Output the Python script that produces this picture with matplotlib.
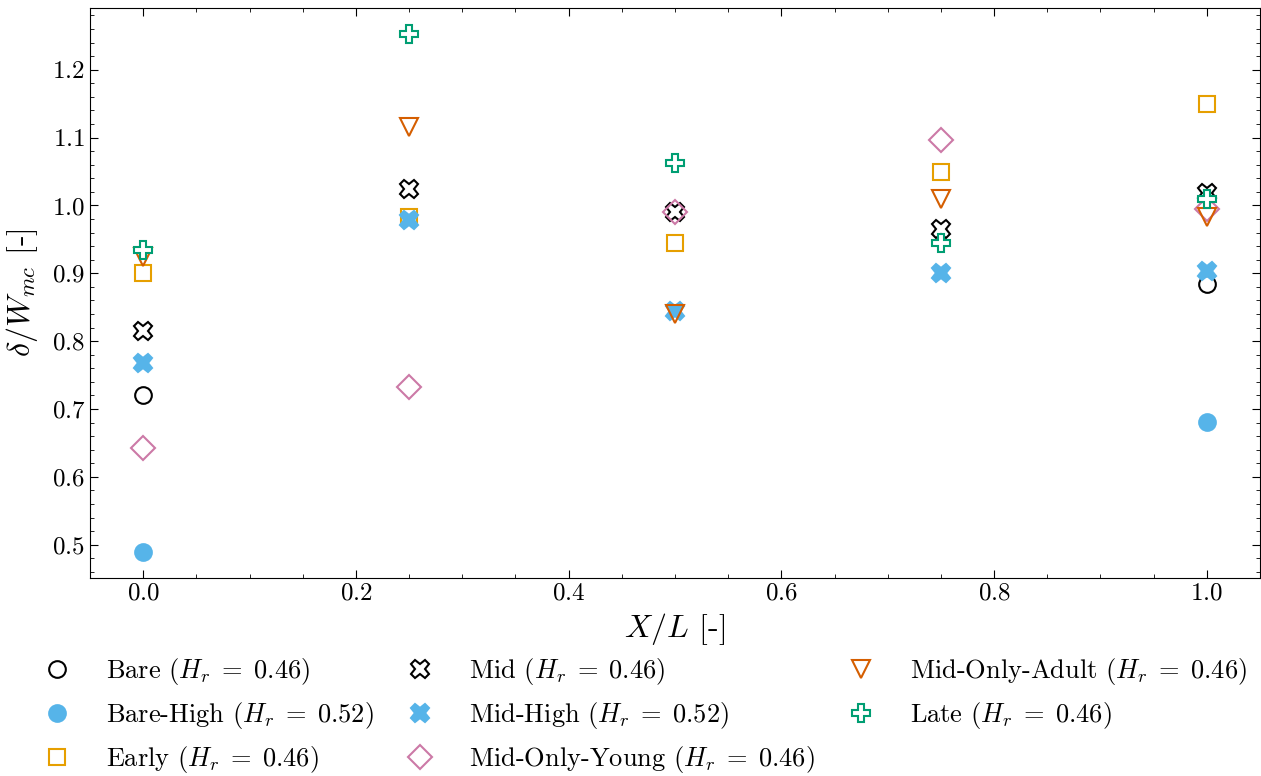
import matplotlib
matplotlib.use('Agg')
import numpy as np
import matplotlib.pyplot as plt
from matplotlib.ticker import AutoMinorLocator

plt.rcParams['font.family'] = 'serif'
plt.rcParams['font.serif'] = ['cmr10']
plt.rcParams['mathtext.fontset'] = 'cm'
plt.rcParams['axes.formatter.use_mathtext'] = True
plt.rcParams['axes.unicode_minus'] = False

# positions along the reach
x_pos = [0.0, 0.25, 0.5, 0.75, 1.0]
nan = np.nan

bare = [0.720, nan, nan, nan, 0.884]
bare_high = [0.489, nan, nan, nan, 0.681]
early = [0.901, 0.983, 0.945, 1.049, 1.150]
mid = [0.815, 1.025, 0.990, 0.966, 1.019]
mid_high = [0.768, 0.978, 0.845, 0.900, 0.903]
mid_young = [0.642, 0.732, 0.991, 1.097, 0.995]
mid_adult = [0.924, 1.115, 0.840, 1.009, 0.983]
late = [0.935, 1.253, 1.063, 0.945, 1.009]

labels = [r'Bare ($H_r\;=\;0.46$)', r'Bare-High ($H_r\;=\;0.52$)', r'Early ($H_r\;=\;0.46$)',
          r'Mid ($H_r\;=\;0.46$)', r'Mid-High ($H_r\;=\;0.52$)', r'Mid-Only-Young ($H_r\;=\;0.46$)',
          r'Mid-Only-Adult ($H_r\;=\;0.46$)', r'Late ($H_r\;=\;0.46$)']

series = [bare, bare_high, early, mid, mid_high, mid_young, mid_adult, late]
# (marker, edge colour, face colour, size)
styles = [('o', 'black', 'none', 12),
          ('o', '#56B4E9', '#56B4E9', 12),
          ('s', '#E69F00', 'none', 12),
          ('X', 'black', 'white', 13),
          ('X', '#56B4E9', '#56B4E9', 13),
          ('D', '#CC79A7', 'none', 12),
          ('v', '#D55E00', 'none', 13),
          ('P', '#009E73', 'white', 13)]

fig = plt.figure(figsize=(12.61, 7.76), dpi=100)
ax = fig.add_axes([90/1261, 1 - 578/776, 1170/1261, 570/776])

handles = []
for ys, lab, (m, ec, fc, ms) in zip(series, labels, styles):
    h, = ax.plot(x_pos, ys, linestyle='none', marker=m, markersize=ms,
                 markeredgecolor=ec, markerfacecolor=fc, markeredgewidth=1.5,
                 label=lab)
    handles.append(h)

ax.set_xlim(-0.05, 1.05)
ax.set_ylim(0.451, 1.291)
ax.set_xticks([0.0, 0.2, 0.4, 0.6, 0.8, 1.0])
ax.set_yticks([0.5, 0.6, 0.7, 0.8, 0.9, 1.0, 1.1, 1.2])
ax.xaxis.set_minor_locator(AutoMinorLocator())
ax.yaxis.set_minor_locator(AutoMinorLocator())
ax.tick_params(which='both', direction='in', top=True, right=True, labelsize=18)
ax.tick_params(which='major', length=6)
ax.tick_params(which='minor', length=3)
ax.set_xlabel(r'$X/L$ [-]', fontsize=23, labelpad=4)
ax.set_ylabel(r'$\delta/W_{mc}$ [-]', fontsize=23, labelpad=8)

fig.legend(handles=handles, loc='upper left', bbox_to_anchor=(0.012, 0.175),
           ncol=3, frameon=False, fontsize=19, handletextpad=0.85,
           columnspacing=0.75, labelspacing=0.5, borderaxespad=0.2)

fig.savefig('out.png', dpi=100)
